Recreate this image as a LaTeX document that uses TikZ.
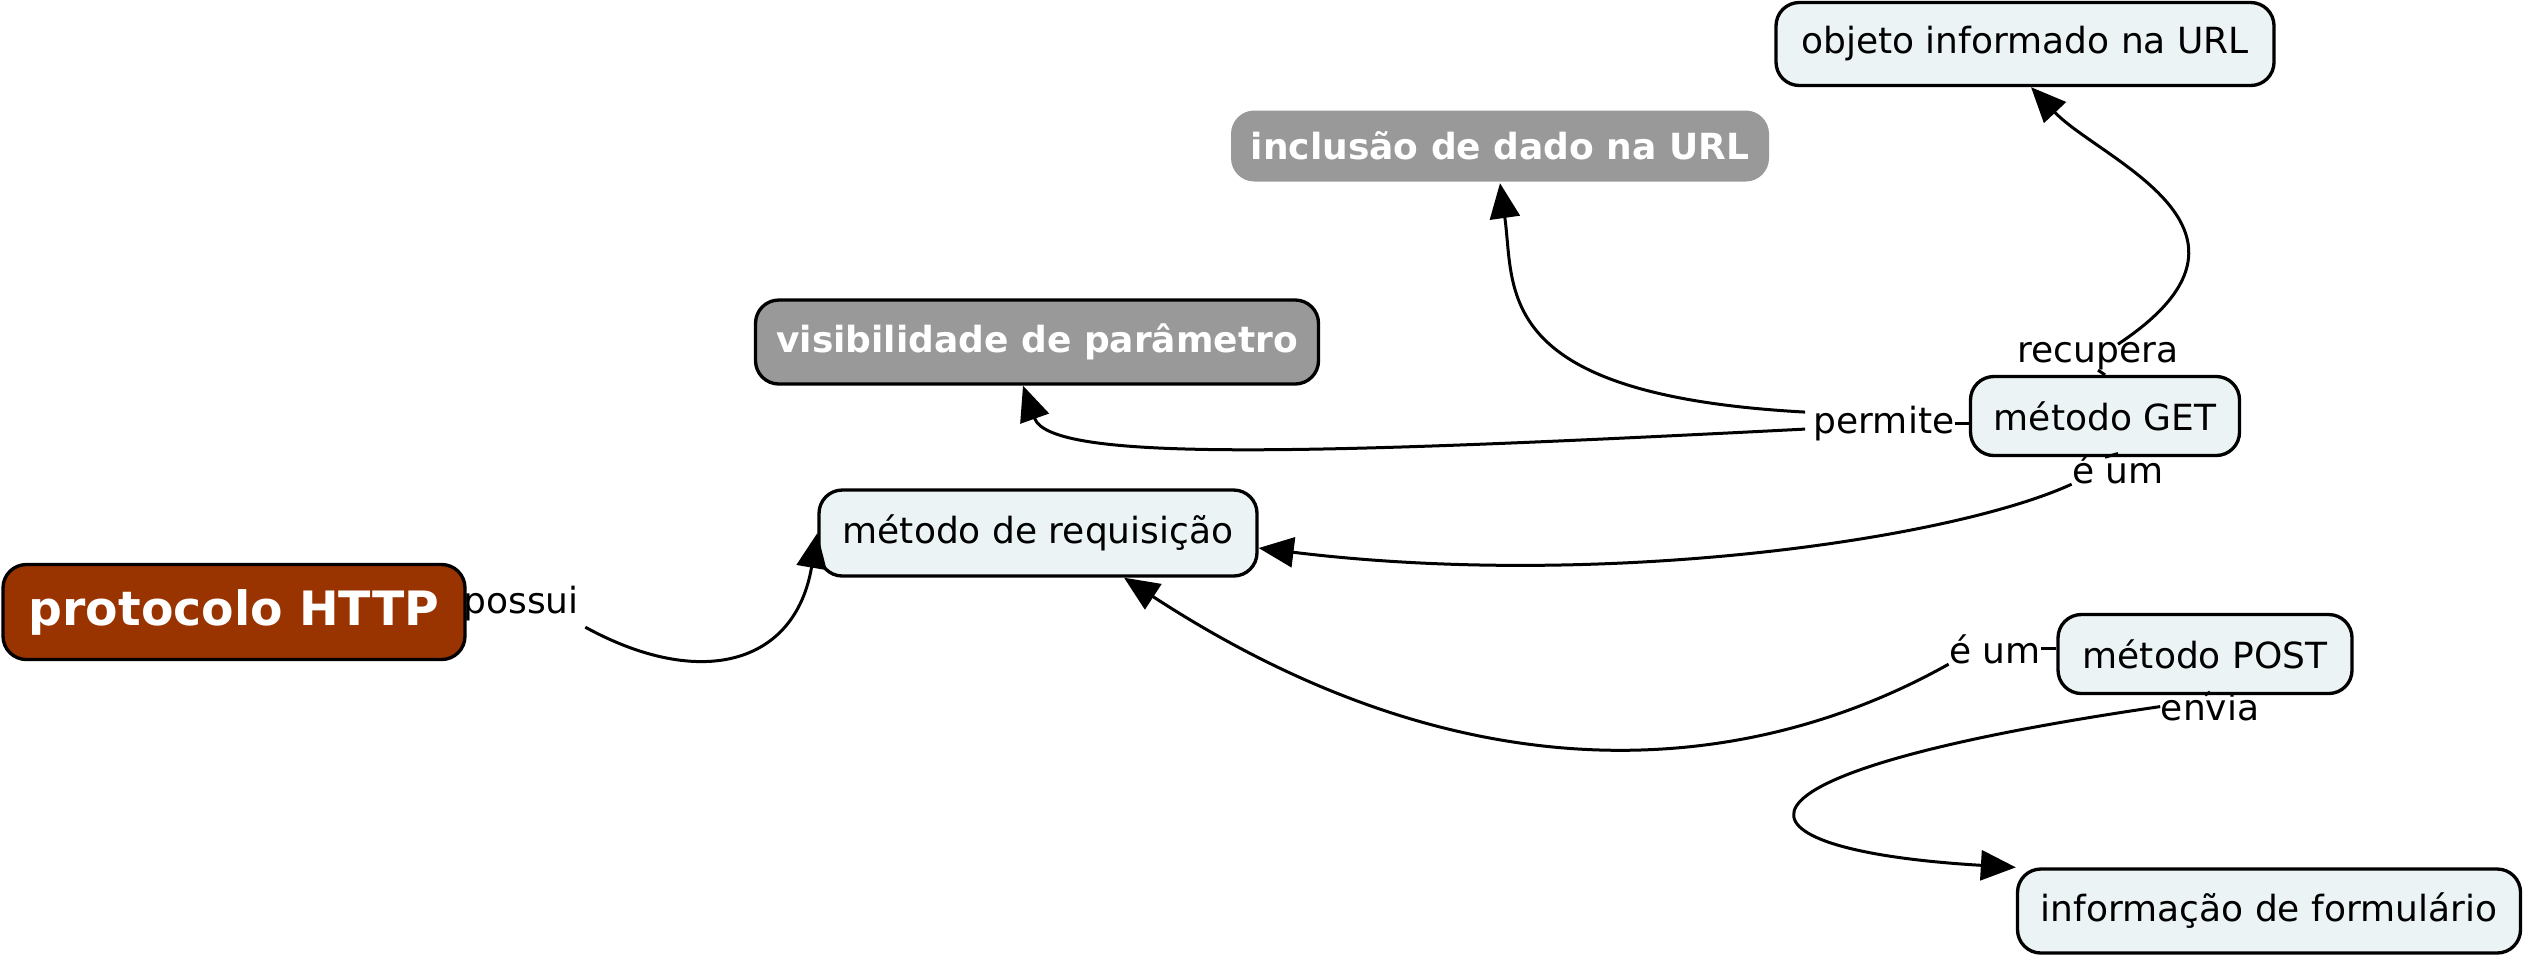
\documentclass[tikz,border=0pt]{standalone}
\usepackage{fontspec}
\setmainfont{DejaVu Sans}
\usetikzlibrary{arrows.meta,calc}

\definecolor{conceptfill}{RGB}{235,243,245}
\definecolor{httpbrown}{RGB}{153,51,0}
\definecolor{keygray}{RGB}{153,153,153}

\tikzset{
  concept/.style={draw, line width=1pt, rounded corners=7pt, fill=conceptfill, inner sep=0pt, font=\fontsize{10.8}{13}\selectfont},
  keyconcept/.style={concept, fill=keygray, text=white, font=\fontsize{10.8}{13}\selectfont\bfseries},
  linklabel/.style={inner sep=0pt, anchor=base, font=\fontsize{10.8}{13}\selectfont},
  link/.style={line width=0.9pt, -{Triangle[length=10.5pt,width=9pt]}},
  tick/.style={line width=0.9pt}
}

\begin{document}
\begin{tikzpicture}[x=0.3pt,y=0.3pt,yscale=-1]
\useasboundingbox (0,0) rectangle (2529,960);

% Concept Nodes
\node (http) at (234,612) [concept, fill=httpbrown, text=white, minimum width=138.6pt, minimum height=28.5pt, font=\fontsize{14.2}{17}\selectfont\bfseries] {protocolo HTTP};
\node (req) at (1038,533) [concept, minimum width=131.4pt, minimum height=25.8pt] {método de requisição};
\node (vis) at (1037,342) [keyconcept, minimum width=168.9pt, minimum height=25.2pt] {visibilidade de parâmetro};
\node (incl) at (1500,146) [keyconcept, draw=none, minimum width=161.4pt, minimum height=21.3pt] {inclusão de dado na URL};
\node (obj) at (2025,44) [concept, minimum width=149.4pt, minimum height=24.9pt] {objeto informado na URL};
\node (get) at (2105,416) [concept, minimum width=80.7pt, minimum height=23.7pt] {método GET};
\node (post) at (2205,654) [concept, minimum width=88.2pt, minimum height=23.7pt] {método POST};
\node (form) at (2269,911) [concept, minimum width=150.9pt, minimum height=25.2pt] {informação de formulário};

% Text Node
\node (possui) at (521,613) [linklabel] {possui};
\node (permite) at (1884,433) [linklabel] {permite};
\node (recupera) at (2098,362) [linklabel] {recupera};
\node (eumget) at (2118,483) [linklabel] {é um};
\node (eumpost) at (1995,663) [linklabel] {é um};
\node (envia) at (2210,720) [linklabel] {envia};

% Short Lines
\draw [tick] (permite.east) -- (permite.east -| get.west);
\draw [tick] (get.north) -- (recupera.south);
\draw [tick] (get.south) -- (eumget.north);
\draw [tick] (eumpost.east) -- (eumpost.east -| post.west);
\draw [tick] (post.south) -- (envia.north);

%Curve Lines
\draw [link] ($(possui.south east)+(6,6)$) .. controls (700,690) and (795,665) .. (req.west);
\draw [link] ($(permite.west)+(-8,6)$) .. controls (1300,455) and (1050,462) .. ($(vis.south)+(-14,0)$);
\draw [link] ($(permite.west)+(-8,-11)$) .. controls (1490,395) and (1515,290) .. (incl.south);
\draw [link] ($(recupera.north)+(20,3)$) .. controls (2290,230) and (2100,160) .. ($(obj.south)+(6,0)$);
\draw [link] (eumget.south west) .. controls (1950,540) and (1600,590) .. ($(req.east)+(0,15)$);
\draw [link] (eumpost.south west) .. controls (1760,770) and (1480,810) .. ($(req.south)+(86,0)$);
\draw [link] (envia.west) .. controls (1690,775) and (1720,850) .. (form.north west);
\end{tikzpicture}
\end{document}
